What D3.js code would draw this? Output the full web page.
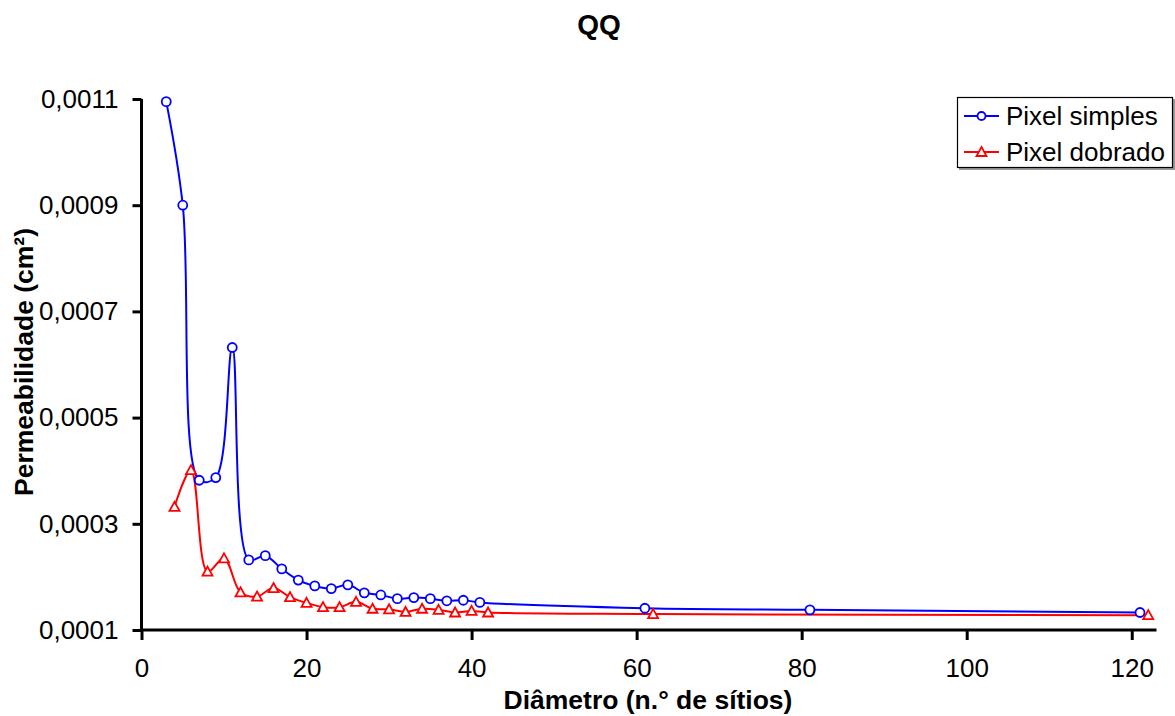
<!DOCTYPE html>
<html>
<head>
    <meta charset="UTF-8">
    <title>QQ - Permeabilidade</title>
    <script src="https://d3js.org/d3.v7.min.js"></script>
    <style>
        body { margin: 0; background: #fff; }
        text { font-family: "Liberation Sans", Arial, sans-serif; fill: #000; }
    </style>
</head>
<body>
    <div id="chart"></div>

    <script>
        // Data
        var simplesX = [3, 5, 7, 9, 11, 13, 15, 17, 19, 21, 23, 25, 27, 29, 31, 33, 35, 37, 39, 41, 61, 81, 121];
        var simplesY = [0.001095, 0.0009, 0.000382, 0.000387, 0.000632, 0.000232, 0.00024, 0.000215, 0.000194, 0.000183, 0.000178, 0.000185,
                        0.00017, 0.000166, 0.000159, 0.000161, 0.000159, 0.000155, 0.000156, 0.000152, 0.000141, 0.000138, 0.000133];

        var dobradoX = [4, 6, 8, 10, 12, 14, 16, 18, 20, 22, 24, 26, 28, 30, 32, 34, 36, 38, 40, 42, 62, 122];
        var dobradoY = [0.000332, 0.000401, 0.00021, 0.000235, 0.000171, 0.000163, 0.000179, 0.000162, 0.000151, 0.000143, 0.000143,
                        0.000153, 0.00014, 0.000139, 0.000134, 0.00014, 0.000138, 0.000133, 0.000136, 0.000133, 0.00013, 0.000128];

        var xTicks = [0, 20, 40, 60, 80, 100, 120];
        var yTicks = [0.0001, 0.0003, 0.0005, 0.0007, 0.0009, 0.0011];
        var seriesNames = ["Pixel simples", "Pixel dobrado"];

        var width = 1175, height = 716;

        var svg = d3.select("#chart").append("svg")
            .attr("width", width)
            .attr("height", height);

        // scales
        var x = d3.scaleLinear().domain([0, 123]).range([141.5, 1156.5]);
        var y = d3.scaleLinear().domain([0.0001, 0.0011]).range([630, 99]);

        var fmt = function (d) { return d3.format(".4f")(d).replace(".", ","); };

        // title
        svg.append("text")
            .attr("x", 599).attr("y", 34)
            .attr("text-anchor", "middle")
            .style("font-size", "28px").style("font-weight", "bold")
            .text("QQ");

        // x axis
        var xAxis = svg.append("g")
            .attr("transform", "translate(0,630)")
            .call(d3.axisBottom(x).tickValues(xTicks).tickSize(10).tickPadding(19).tickFormat(d3.format("d")));
        xAxis.select(".domain").attr("d", "M" + x.range()[0] + ",0H" + x.range()[1]).attr("stroke-width", 3);
        xAxis.selectAll(".tick line").attr("stroke-width", 3);
        xAxis.selectAll("text").style("font-size", "26px");

        // y axis
        var yAxis = svg.append("g")
            .attr("transform", "translate(141.5,0)")
            .call(d3.axisLeft(y).tickValues(yTicks).tickSize(9).tickPadding(14).tickFormat(fmt));
        yAxis.select(".domain").attr("d", "M0," + y.range()[0] + "V" + y.range()[1]).attr("stroke-width", 3);
        yAxis.selectAll(".tick line").attr("stroke-width", 3);
        yAxis.selectAll("text").style("font-size", "26px");

        // axis titles
        svg.append("text")
            .attr("x", 648).attr("y", 709)
            .attr("text-anchor", "middle")
            .style("font-size", "26.5px").style("font-weight", "bold")
            .text("Diâmetro (n.° de sítios)");

        svg.append("text")
            .attr("transform", "translate(33,362) rotate(-90)")
            .attr("text-anchor", "middle")
            .style("font-size", "26.5px").style("font-weight", "bold")
            .text("Permeabilidade (cm²)");

        // smoothed lines
        var line = d3.line()
            .x(function (d) { return x(d[0]); })
            .y(function (d) { return y(d[1]); })
            .curve(d3.curveCatmullRom.alpha(0.5));

        var simples = d3.zip(simplesX, simplesY);
        var dobrado = d3.zip(dobradoX, dobradoY);

        svg.append("path").datum(simples)
            .attr("d", line).attr("fill", "none")
            .attr("stroke", "#0000ff").attr("stroke-width", 2);

        svg.append("path").datum(dobrado)
            .attr("d", line).attr("fill", "none")
            .attr("stroke", "#ff0000").attr("stroke-width", 2);

        var tri = "M0,-5L5,4L-5,4Z";

        // markers
        svg.selectAll(".m-simples")
            .data(simples)
            .enter().append("circle")
            .attr("class", "m-simples")
            .attr("cx", function (d) { return x(d[0]); })
            .attr("cy", function (d) { return y(d[1]); })
            .attr("r", 4.5)
            .attr("fill", "#fff").attr("stroke", "#0000ff").attr("stroke-width", 1.8);

        svg.selectAll(".m-dobrado")
            .data(dobrado)
            .enter().append("path")
            .attr("class", "m-dobrado")
            .attr("transform", function (d) { return "translate(" + x(d[0]) + "," + y(d[1]) + ")"; })
            .attr("d", tri)
            .attr("fill", "#fff").attr("stroke", "#ff0000").attr("stroke-width", 1.8);

        // legend
        var lg = svg.append("g");
        lg.append("rect")
            .attr("x", 959).attr("y", 99).attr("width", 216).attr("height", 71)
            .attr("fill", "#999");
        lg.append("rect")
            .attr("x", 957.5).attr("y", 97.5).attr("width", 215).attr("height", 70)
            .attr("fill", "#fff").attr("stroke", "#000").attr("stroke-width", 1.2);

        var colors = ["#0000ff", "#ff0000"];
        seriesNames.forEach(function (name, i) {
            var cy = 116 + i * 36;
            lg.append("line")
                .attr("x1", 964).attr("x2", 999).attr("y1", cy).attr("y2", cy)
                .attr("stroke", colors[i]).attr("stroke-width", 2);
            if (i === 0) {
                lg.append("circle").attr("cx", 981.5).attr("cy", cy).attr("r", 4)
                    .attr("fill", "#fff").attr("stroke", colors[i]).attr("stroke-width", 1.8);
            } else {
                lg.append("path").attr("transform", "translate(981.5," + cy + ")").attr("d", tri)
                    .attr("fill", "#fff").attr("stroke", colors[i]).attr("stroke-width", 1.8);
            }
            lg.append("text")
                .attr("x", 1006).attr("y", cy + 9)
                .style("font-size", "26px")
                .text(name);
        });
    </script>
</body>
</html>
